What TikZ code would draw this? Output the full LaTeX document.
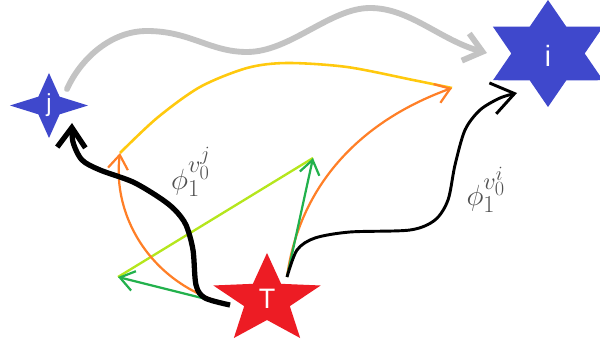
\documentclass[tikz,border=0pt]{standalone}
\usepackage{fontspec}
\setsansfont{Liberation Sans}
\usetikzlibrary{shapes.geometric,arrows.meta}

\definecolor{starblue}{RGB}{63,72,204}
\definecolor{starred}{RGB}{237,28,36}
\definecolor{paintorange}{RGB}{255,127,39}
\definecolor{paintyellow}{RGB}{255,201,14}
\definecolor{paintgreen}{RGB}{34,177,76}
\definecolor{paintlime}{RGB}{181,230,29}
\definecolor{paintgray}{RGB}{195,195,195}
\definecolor{phigray}{RGB}{80,80,80}

% star text: zero-size box so that the star keeps its own size
\newcommand{\starlabel}[2]{\makebox[0pt]{\raisebox{-#1}[0pt][0pt]{\scalebox{.8}[1]{#2}}}}

\begin{document}
\begin{tikzpicture}[x=0.03cm, y=-0.03cm,
  >={Straight Barb[length=12pt,width=17pt]},
  starnode/.style={star, fill=#1, inner sep=0pt, xscale=1.2, text=white},
  phil/.style={text=phigray, font=\Huge, inner sep=0pt}]
\useasboundingbox (0,0) rectangle (600,345);

\node[starnode=starblue, star points=4, star point ratio=2.6, minimum size=1.95cm,
  font=\sffamily\fontsize{21}{24}\selectfont] (j) at (49,105.5) {\starlabel{.26em}{j}};
\node[starnode=starblue, star points=6, star point ratio=1.732, minimum size=3.21cm, xscale=.99,
  font=\sffamily\fontsize{25}{28}\selectfont] (i) at (548,53.5) {\starlabel{.45em}{i}};
\node[starnode=starred, star points=5, star point ratio=2.35, minimum size=2.82cm,
  font=\sffamily\fontsize{24}{28}\selectfont] (T) at (267,300) {\starlabel{.30em}{T}};

\node[phil] (lj) at (191,172) {$\phi_1^{v_0^j}$};
\node[phil] (li) at (486,190) {$\phi_1^{v_0^i}$};

\coordinate (gs) at (67,89);
\coordinate (ge) at (487,53);
\coordinate (tl) at (230,305);
\coordinate (tr) at (287,277);
\coordinate (oa) at (120,153);
\coordinate (ob) at (452,88);
\coordinate (ga) at (118,277);
\coordinate (gb) at (313,158);
\coordinate (ja) at (72,123);
\coordinate (ia) at (517,93);

% j to i
\draw[->, paintgray, line width=5pt, line cap=round,
  >={Straight Barb[length=15pt,width=24pt]}]
  (gs) .. controls (80,60) and (110,31) .. (147,31)
  .. controls (190,31) and (210,52) .. (247,52)
  .. controls (290,52) and (330,8) .. (370,8)
  .. controls (410,8) and (440,40) .. (ge);

\draw[paintyellow, line width=2.2pt]
  plot[smooth] coordinates {(oa) (157,118) (200,87) (247,68) (287,63) (347,67) (413,80) (ob)};
\draw[paintlime, line width=2pt] (ga) -- (gb);

\draw[->, paintorange, line width=1.9pt] (tl) .. controls (150,285) and (112,215) .. (oa);
\draw[->, paintorange, line width=1.9pt] (tr) .. controls (298,195) and (350,125) .. (ob);
\draw[->, paintgreen, line width=1.9pt] (tl) -- (ga);
\draw[->, paintgreen, line width=1.9pt] (tr) -- (gb);

\draw[->, black, line width=4.5pt, >={Straight Barb[length=17pt,width=24pt]}]
  plot[smooth] coordinates {(tl) (205,298) (196,285) (193,250) (186,225) (175,210)
  (160,198) (133,182) (100,170) (82,160) (73,142) (ja)};
\draw[->, black, line width=2.5pt, >={Straight Barb[length=19pt,width=27pt]}]
  plot[smooth] coordinates {(tr) (297,250) (315,238) (350,232) (410,230) (435,220)
  (448,200) (455,165) (465,130) (480,110) (500,98) (ia)};
\end{tikzpicture}
\end{document}
